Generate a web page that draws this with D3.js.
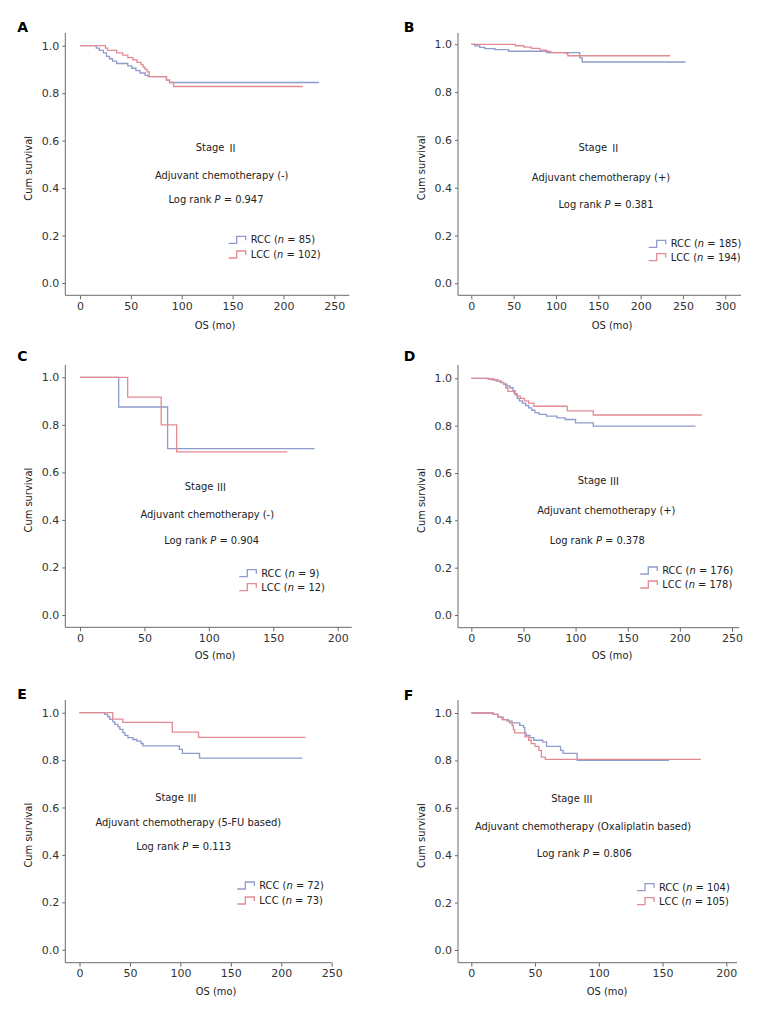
<!DOCTYPE html>
<html><head><meta charset="utf-8">
<script src="https://cdn.jsdelivr.net/npm/d3@7"></script>
<style>
body{margin:0;background:#fff}
.tick text{font-family:"DejaVu Sans",Verdana,sans-serif;font-size:11px;fill:#333}
.ann{font-family:"DejaVu Sans Condensed","DejaVu Sans",sans-serif;font-stretch:condensed;font-size:11px;fill:#222}
.roman{font-family:"Noto Sans CJK SC","Noto Sans CJK JP",sans-serif;font-stretch:normal}
</style>
</head><body><svg id="c" width="764" height="1009"></svg>
<script>
// ---------- DATA ----------
const panelIds = ["A","B","C","D","E","F"];
const xMaxes = [250, 300, 200, 250, 250, 200];
const yTicks = [0, 0.2, 0.4, 0.6, 0.8, 1.0];
const stageNumerals = ["\u2161","\u2161","\u2162","\u2162","\u2162","\u2162"];
const treatmentLabels = ["Adjuvant chemotherapy (-)","Adjuvant chemotherapy (+)","Adjuvant chemotherapy (-)","Adjuvant chemotherapy (+)","Adjuvant chemotherapy (5-FU based)","Adjuvant chemotherapy (Oxaliplatin based)"];
const pValues = ["0.947","0.381","0.904","0.378","0.113","0.806"];
const rccN = [85, 185, 9, 176, 72, 104];
const lccN = [102, 194, 12, 178, 73, 105];

// Kaplan-Meier steps: [time (mo), cumulative survival]
const rccA = [[0,1],[16,0.99],[19,0.98],[23,0.97],[26,0.955],[29,0.945],[32,0.935],[36,0.925],[47,0.915],[51,0.905],[55,0.895],[59,0.885],[64,0.875],[67,0.87],[85,0.855],[88,0.845],[235,0.845]];
const lccA = [[0,1],[25,0.99],[27,0.98],[36,0.97],[42,0.96],[47,0.95],[52,0.94],[56,0.93],[60,0.92],[62,0.91],[64,0.9],[66,0.89],[68,0.87],[85,0.855],[88,0.845],[92,0.828],[219,0.828]];
const rccB = [[0,1],[4,0.993],[10,0.987],[16,0.982],[28,0.978],[44,0.971],[89,0.965],[128,0.943],[131,0.926],[253,0.926]];
const lccB = [[0,1],[52,0.994],[62,0.988],[71,0.983],[81,0.976],[89,0.97],[94,0.965],[112,0.961],[114,0.952],[235,0.952]];
const rccC = [[0,1],[30,0.875],[68,0.70],[182,0.70]];
const lccC = [[0,1],[37,0.917],[63,0.80],[75,0.686],[161,0.686]];
const rccD = [[0,1],[16,0.997],[20,0.993],[24,0.988],[28,0.982],[31,0.975],[34,0.968],[37,0.96],[40,0.948],[42,0.93],[44,0.915],[46,0.905],[49,0.895],[52,0.885],[55,0.875],[58,0.865],[61,0.855],[65,0.848],[72,0.84],[82,0.833],[90,0.826],[100,0.812],[117,0.798],[215,0.798]];
const lccD = [[0,1],[17,0.997],[22,0.993],[26,0.988],[29,0.983],[31,0.975],[33,0.96],[35,0.945],[41,0.935],[44,0.925],[47,0.915],[51,0.905],[55,0.895],[60,0.882],[92,0.862],[117,0.845],[221,0.845]];
const rccE = [[0,1],[25,0.993],[28,0.983],[30,0.972],[33,0.961],[35,0.951],[38,0.941],[40,0.93],[43,0.916],[45,0.904],[48,0.895],[53,0.887],[57,0.88],[61,0.87],[63,0.86],[99,0.845],[102,0.828],[119,0.808],[221,0.808]];
const lccE = [[0,1],[33,0.973],[43,0.959],[92,0.918],[118,0.896],[224,0.896]];
const rccF = [[0,1],[17,0.994],[21,0.983],[25,0.972],[29,0.966],[32,0.958],[38,0.948],[41,0.938],[42,0.916],[43,0.906],[46,0.896],[49,0.885],[56,0.878],[59,0.859],[70,0.842],[72,0.83],[83,0.8],[155,0.8]];
const lccF = [[0,1],[17,0.994],[21,0.983],[24,0.972],[28,0.966],[30,0.958],[32,0.948],[33,0.93],[34,0.916],[42,0.899],[45,0.885],[47,0.871],[50,0.859],[53,0.842],[55,0.814],[58,0.804],[180,0.804]];
const rccSeries = [rccA, rccB, rccC, rccD, rccE, rccF];
const lccSeries = [lccA, lccB, lccC, lccD, lccE, lccF];

// ---------- LAYOUT ----------
const layout = [
 {ax:65.3, top:33, base:295.3, y0:283, y1:45.7, x0:80, x1:334.3, right:349.3, lab:[17.3,31.7], stage:[216.7,147], treat:[221.7,175.7], logr:[216,199.3], leg:[228.7,239.3,254], xt:[215,325]},
 {ax:458, top:33, base:295.3, y0:283.3, y1:44.3, x0:471.3, x1:725.3, right:741, lab:[403.7,31.7], stage:[599.3,147], treat:[601,177.7], logr:[606,204.3], leg:[648.7,243.3,256.7], xt:[612,325]},
 {ax:65.3, top:365, base:627.3, y0:615, y1:377.3, x0:80, x1:337.7, right:351.7, lab:[17.3,360.7], stage:[205.7,485.7], treat:[207.3,514], logr:[211.7,540], leg:[239.3,572.7,586.7], xt:[215,655]},
 {ax:458, top:365, base:627.7, y0:615, y1:378.3, x0:471.3, x1:732, right:739.3, lab:[403.7,360.7], stage:[598.7,480], treat:[606.3,510.3], logr:[597.3,540], leg:[640.3,570,584], xt:[612,655]},
 {ax:65.3, top:700, base:962.7, y0:949.7, y1:712.7, x0:79.5, x1:331.7, right:332, lab:[17.3,699.3], stage:[176,796.7], treat:[188.3,822], logr:[183.7,845.7], leg:[237.3,885,900], xt:[216,991.7]},
 {ax:458, top:700, base:962.7, y0:950, y1:713, x0:471.3, x1:726.3, right:737, lab:[403.7,700], stage:[572,797.7], treat:[583,826.7], logr:[584.3,853.3], leg:[637,886.7,900.7], xt:[607,991.7]}
];
const blue = "#8e9bcb", red = "#e48a93", axisCol = "#6a6a6a";

const svg = d3.select("#c");
panelIds.forEach((id, i) => {
  const L = layout[i];
  const g = svg.append("g");
  const x = d3.scaleLinear().domain([0, xMaxes[i]]).range([L.x0, L.x1]);
  const y = d3.scaleLinear().domain([0, 1]).range([L.y0, L.y1]);

  // axes
  const yAx = g.append("g").attr("transform", `translate(${L.ax},0)`)
    .call(d3.axisLeft(y).tickValues(yTicks).tickFormat(d3.format(".1f")).tickSize(3).tickPadding(3));
  yAx.select(".domain").remove();
  const xAx = g.append("g").attr("transform", `translate(0,${L.base})`)
    .call(d3.axisBottom(x).tickValues(d3.range(0, xMaxes[i] + 1, 50)).tickSize(4).tickPadding(3));
  xAx.select(".domain").remove();
  g.selectAll(".tick line").attr("stroke", axisCol);
  g.append("line").attr("x1", L.ax).attr("x2", L.ax).attr("y1", L.top).attr("y2", L.base).attr("stroke", axisCol);
  g.append("line").attr("x1", L.ax).attr("x2", L.right).attr("y1", L.base).attr("y2", L.base).attr("stroke", axisCol);

  // titles
  g.append("text").attr("class","ann").attr("text-anchor","middle").attr("dominant-baseline","central")
    .attr("transform", `translate(${L.ax - 37},${(L.y0 + L.y1) / 2 + 4}) rotate(-90)`).text("Cum survival");
  g.append("text").attr("class","ann").attr("text-anchor","middle").attr("dominant-baseline","central")
    .attr("x", L.xt[0]).attr("y", L.xt[1]).text("OS (mo)");
  g.append("text").attr("x", L.lab[0]).attr("y", L.lab[1])
    .style("font-family","'DejaVu Sans',Verdana,sans-serif").style("font-weight","bold").style("font-size","14px").text(id);

  // curves
  const line = d3.line().x(d => x(d[0])).y(d => y(d[1])).curve(d3.curveStepAfter);
  g.append("path").datum(rccSeries[i]).attr("d", line).attr("fill","none").attr("stroke", blue).attr("stroke-width", 1.3);
  g.append("path").datum(lccSeries[i]).attr("d", line).attr("fill","none").attr("stroke", red).attr("stroke-width", 1.3);

  // annotations
  const ann = (p) => g.append("text").attr("class","ann").attr("text-anchor","middle").attr("dominant-baseline","central").attr("x", p[0]).attr("y", p[1]);
  const st = ann(L.stage);
  st.append("tspan").text("Stage ");
  st.append("tspan").attr("class","roman").attr("font-size","10px").text(stageNumerals[i]);
  ann(L.treat).text(treatmentLabels[i]);
  const lr = ann(L.logr);
  lr.append("tspan").text("Log rank ");
  lr.append("tspan").attr("font-style","italic").text("P");
  lr.append("tspan").text(" = " + pValues[i]);

  // legend
  [[blue, "RCC", rccN[i], L.leg[1]], [red, "LCC", lccN[i], L.leg[2]]].forEach(([c, nm, n, yy]) => {
    const lx = L.leg[0];
    g.append("path").attr("d", `M${lx},${yy + 4}H${lx + 8}V${yy - 3}H${lx + 17}V${yy + 1}`)
      .attr("fill","none").attr("stroke", c).attr("stroke-width", 1.3);
    const t = g.append("text").attr("class","ann").attr("dominant-baseline","central").attr("x", lx + 22).attr("y", yy);
    t.append("tspan").text(nm + " (");
    t.append("tspan").attr("font-style","italic").text("n");
    t.append("tspan").text(" = " + n + ")");
  });
});
</script>
</body></html>
